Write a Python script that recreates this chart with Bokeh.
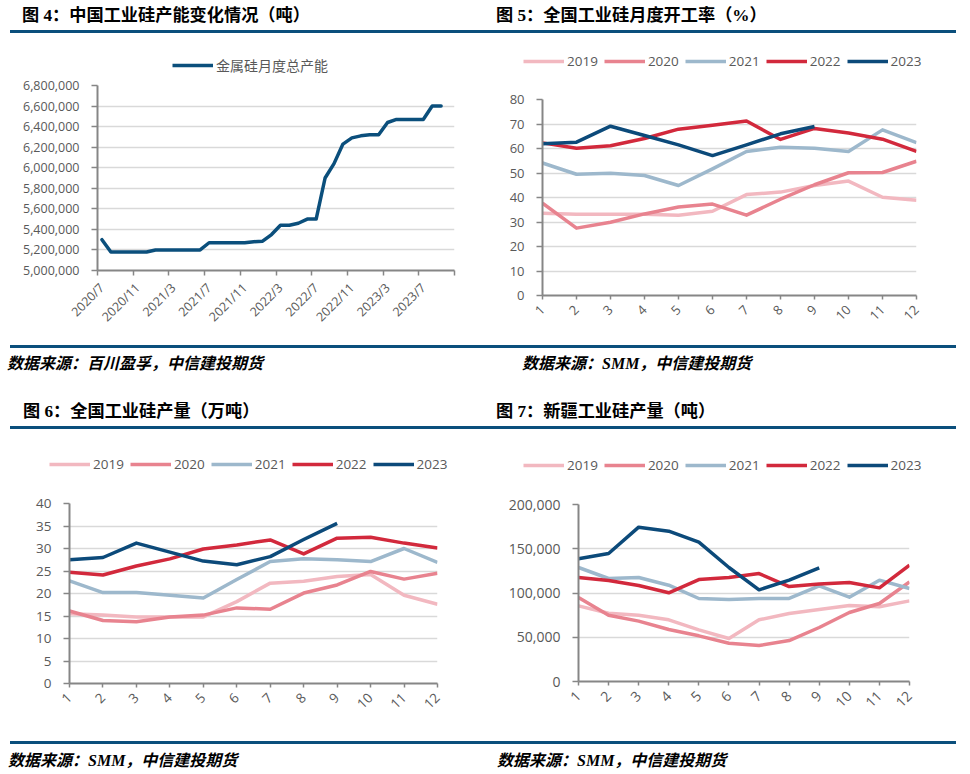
import math
from bokeh.plotting import figure
from bokeh.models import Range1d, FixedTicker, NumeralTickFormatter, Legend, LegendItem, Div
from bokeh.layouts import column, row
from bokeh.embed import file_html
from bokeh.resources import INLINE

# ---------------- data ----------------
cap_months = ["2020/7", "2020/8", "2020/9", "2020/10", "2020/11", "2020/12",
              "2021/1", "2021/2", "2021/3", "2021/4", "2021/5", "2021/6",
              "2021/7", "2021/8", "2021/9", "2021/10", "2021/11", "2021/12",
              "2022/1", "2022/2", "2022/3", "2022/4", "2022/5", "2022/6",
              "2022/7", "2022/8", "2022/9", "2022/10", "2022/11", "2022/12",
              "2023/1", "2023/2", "2023/3", "2023/4", "2023/5", "2023/6",
              "2023/7", "2023/8", "2023/9"]
cap_values = [5300000, 5180000, 5180000, 5180000, 5180000, 5180000,
              5200000, 5200000, 5200000, 5200000, 5200000, 5200000,
              5270000, 5270000, 5270000, 5270000, 5270000, 5280000,
              5285000, 5350000, 5440000, 5440000, 5460000, 5500000,
              5500000, 5900000, 6040000, 6230000, 6290000, 6310000,
              6320000, 6320000, 6440000, 6470000, 6470000, 6470000,
              6470000, 6600000, 6600000]
cap_tick_labels = ["2020/7", "2020/11", "2021/3", "2021/7", "2021/11",
                   "2022/3", "2022/7", "2022/11", "2023/3", "2023/7"]
cap_legend = "金属硅月度总产能"

months = [1, 2, 3, 4, 5, 6, 7, 8, 9, 10, 11, 12]
years = ["2019", "2020", "2021", "2022", "2023"]

rate_2019 = [33.6, 33.2, 33.2, 33.2, 32.8, 34.4, 41.2, 42.2, 44.9, 46.7, 40.1, 38.9]
rate_2020 = [37.7, 27.5, 29.9, 33.3, 36.1, 37.3, 32.8, 39.3, 45.2, 50.1, 50.2, 54.8]
rate_2021 = [54.1, 49.5, 49.9, 49.0, 44.9, 51.7, 58.8, 60.5, 60.1, 58.8, 67.6, 62.4]
rate_2022 = [62.3, 60.1, 61.1, 64.1, 67.9, 69.5, 71.2, 63.7, 68.2, 66.3, 63.8, 58.8]
rate_2023 = [61.9, 62.6, 69.1, 65.3, 61.5, 57.1, 61.5, 66.0, 69.0]

out_2019 = [15.5, 15.2, 14.8, 14.8, 14.8, 18.2, 22.3, 22.7, 23.8, 24.2, 19.6, 17.6]
out_2020 = [16.1, 14.0, 13.7, 14.8, 15.2, 16.8, 16.5, 20.1, 21.9, 24.9, 23.2, 24.5]
out_2021 = [22.8, 20.2, 20.2, 19.6, 19.0, 23.1, 27.1, 27.7, 27.5, 27.1, 30.0, 26.9]
out_2022 = [24.7, 24.1, 26.1, 27.7, 29.9, 30.8, 31.9, 28.8, 32.3, 32.5, 31.2, 30.1]
out_2023 = [27.5, 28.0, 31.2, 29.2, 27.2, 26.4, 28.2, 32.0, 35.6]

xj_2019 = [85500, 77200, 74900, 69700, 58400, 48600, 69700, 76800, 81300, 85900, 84400, 91100]
xj_2020 = [94900, 74900, 68200, 58700, 51600, 43300, 40700, 46300, 61000, 78000, 88100, 112600]
xj_2021 = [128800, 116400, 117500, 108800, 93800, 92600, 93800, 93800, 108100, 95300, 114500, 105100]
xj_2022 = [117500, 114100, 108500, 100200, 115200, 117500, 122000, 107300, 110300, 111800, 105800, 131400]
xj_2023 = [138600, 144600, 174400, 169800, 157400, 128800, 103600, 114500, 128400]

titles = ["图 4：中国工业硅产能变化情况（吨）", "图 5：全国工业硅月度开工率（%）",
          "图 6：全国工业硅产量（万吨）", "图 7：新疆工业硅产量（吨）"]
sources = ["数据来源：百川盈孚，中信建投期货", "数据来源：SMM，中信建投期货",
           "数据来源：SMM，中信建投期货", "数据来源：SMM，中信建投期货"]

# ---------------- styles ----------------
year_colors = ["#f2b8c0", "#e8838f", "#9db8cc", "#d2293c", "#0c4a7a"]
cap_color = "#0b4f7c"
rule_color = "#0b4f7c"
axis_color = "#868686"
grid_color = "#d9d9d9"
text_color = "#595959"
num_font = "Open Sans"
cjk_font = "Noto Sans CJK SC"
LW = 3.5
NAN = float("nan")


def base_fig(height, x_range, y_range, borders):
    left, right, top, bottom = borders
    p = figure(width=485, height=height, x_range=x_range, y_range=y_range,
               output_backend="svg", toolbar_location=None, tools="",
               min_border_left=left, min_border_right=right,
               min_border_top=top, min_border_bottom=bottom)
    p.outline_line_color = None
    p.xgrid.visible = False
    p.ygrid.grid_line_color = grid_color
    p.ygrid.grid_line_width = 1.5
    for ax in (p.xaxis[0], p.yaxis[0]):
        ax.axis_line_color = axis_color
        ax.axis_line_width = 2
        ax.major_tick_line_color = axis_color
        ax.major_tick_line_width = 1.5
        ax.minor_tick_line_color = None
        ax.major_tick_in = 0
        ax.major_label_text_color = text_color
        ax.major_label_text_font = num_font
    p.yaxis.major_tick_out = 6
    p.yaxis.major_label_standoff = 12
    p.xaxis.major_tick_out = 4
    p.xaxis.major_label_standoff = 8
    p.xaxis.major_label_orientation = math.pi / 4
    return p


def legend_strip(height, specs):
    """A frameless strip that carries the legends of the two charts below it."""
    lf = figure(width=970, height=height, x_range=Range1d(0, 1), y_range=Range1d(0, 1),
                output_backend="svg", toolbar_location=None, tools="",
                x_axis_type=None, y_axis_type=None, min_border=0,
                min_border_left=0, min_border_right=0, min_border_top=0, min_border_bottom=0)
    lf.outline_line_color = None
    for labels, colors, loc, font, size in specs:
        items = []
        for lab, col in zip(labels, colors):
            # swatch-only renderer: a single NaN point draws nothing in the strip
            rr = lf.line(x=[NAN], y=[NAN], line_color=col, line_width=LW)
            items.append(LegendItem(label=lab, renderers=[rr]))
        lg = Legend(items=items, orientation="horizontal", location=loc,
                    glyph_width=41, glyph_height=16, label_height=16,
                    label_standoff=3, spacing=6, padding=0, margin=0,
                    border_line_color=None, background_fill_alpha=0,
                    label_text_font=font, label_text_font_size=size,
                    label_text_color=text_color)
        lf.add_layout(lg)
    return lf


# ---- Figure 4: capacity ----
f4 = base_fig(265, Range1d(-0.5, 39.5), Range1d(5000000, 6800000), (97, 31, 10, 70))
f4.line(list(range(len(cap_values))), cap_values, line_color=cap_color,
        line_width=LW, line_join="round", line_cap="round")
f4.yaxis.ticker = FixedTicker(ticks=list(range(5000000, 6800001, 200000)))
f4.yaxis.formatter = NumeralTickFormatter(format="0,0")
f4.yaxis.major_label_text_font_size = "12.5px"
xt = [cap_months.index(t) for t in cap_tick_labels]
f4.xaxis.ticker = FixedTicker(ticks=xt, minor_ticks=[k - 0.5 for k in range(0, 41, 4)])
f4.xaxis.major_label_overrides = {i: cap_months[i] for i in xt}
f4.xaxis.major_tick_line_color = None
f4.xaxis.minor_tick_line_color = axis_color
f4.xaxis.minor_tick_line_width = 1.5
f4.xaxis.minor_tick_in = 0
f4.xaxis.minor_tick_out = 5
f4.xaxis.major_label_text_font_size = "12.5px"
f4.xaxis.major_label_standoff = 10


def year_chart(height, series, yr, yticks, fmt, fsize, borders):
    p = base_fig(height, Range1d(1, 12), Range1d(*yr), borders)
    for vals, col in zip(series, year_colors):
        p.line(months[:len(vals)], vals, line_color=col, line_width=LW,
               line_join="round", line_cap="butt")
    p.yaxis.ticker = FixedTicker(ticks=yticks)
    if fmt:
        p.yaxis.formatter = NumeralTickFormatter(format=fmt)
    p.xaxis.ticker = FixedTicker(ticks=months)
    p.yaxis.major_label_text_font_size = fsize
    p.xaxis.major_label_text_font_size = fsize
    return p


f5 = year_chart(265, [rate_2019, rate_2020, rate_2021, rate_2022, rate_2023], (0, 80),
                list(range(0, 81, 10)), None, "13px", (57, 54, 24, 45))
f6 = year_chart(257, [out_2019, out_2020, out_2021, out_2022, out_2023], (0, 40),
                list(range(0, 41, 5)), None, "13.5px", (69, 48, 25, 52))
f7 = year_chart(257, [xj_2019, xj_2020, xj_2021, xj_2022, xj_2023], (0, 200000),
                list(range(0, 200001, 50000)), "0,0", "14px", (93, 61, 26, 54))

legA = legend_strip(40, [([cap_legend], [cap_color], (172, 0), cjk_font, "14px"),
                         (years, year_colors, (523, 5), num_font, "13.5px")])
legB = legend_strip(48, [(years, year_colors, (49, 5), num_font, "13.5px"),
                         (years, year_colors, (523, 4), num_font, "13.5px")])

# ---------------- headers / footers ----------------
TITLE = ("position:absolute;white-space:nowrap;font-weight:bold;font-size:17.2px;line-height:17px;"
         "color:#000;font-family:'Liberation Serif','Noto Sans CJK SC';")
SRC = ("position:absolute;white-space:nowrap;font-weight:bold;font-style:italic;font-size:16px;"
       "line-height:16px;color:#000;font-family:'Liberation Serif','Noto Sans CJK SC';")


def rule(top):
    return (f'<div style="position:absolute;left:10px;top:{top}px;width:946px;height:3px;'
            f'background:{rule_color};"></div>')


def txt(style, left, top, s):
    return f'<div style="{style}left:{left}px;top:{top}px;">{s}</div>'


def box(h, inner):
    return Div(text=f'<div style="position:relative;width:970px;height:{h}px;">{inner}</div>',
               width=970, height=h, margin=0, styles={"overflow": "visible"})


header = box(35, txt(TITLE, 22, 7, titles[0]) + txt(TITLE, 496, 7, titles[1]) + rule(30))
middle = box(90, rule(5) + txt(SRC, 7, 16, sources[0]) + txt(SRC, 522, 16, sources[1])
             + txt(TITLE, 23, 63, titles[2]) + txt(TITLE, 496, 63, titles[3]) + rule(86))
footer = box(39, rule(6) + txt(SRC, 8, 18, sources[2]) + txt(SRC, 497, 18, sources[3]))

row1 = row(column(f4, spacing=0), column(f5, spacing=0), spacing=0)
row2 = row(column(f6, spacing=0), column(f7, spacing=0), spacing=0)

layout = column(header, legA, row1, middle, legB, row2, footer, spacing=0)

open("out.html", "w").write(file_html(layout, INLINE))
